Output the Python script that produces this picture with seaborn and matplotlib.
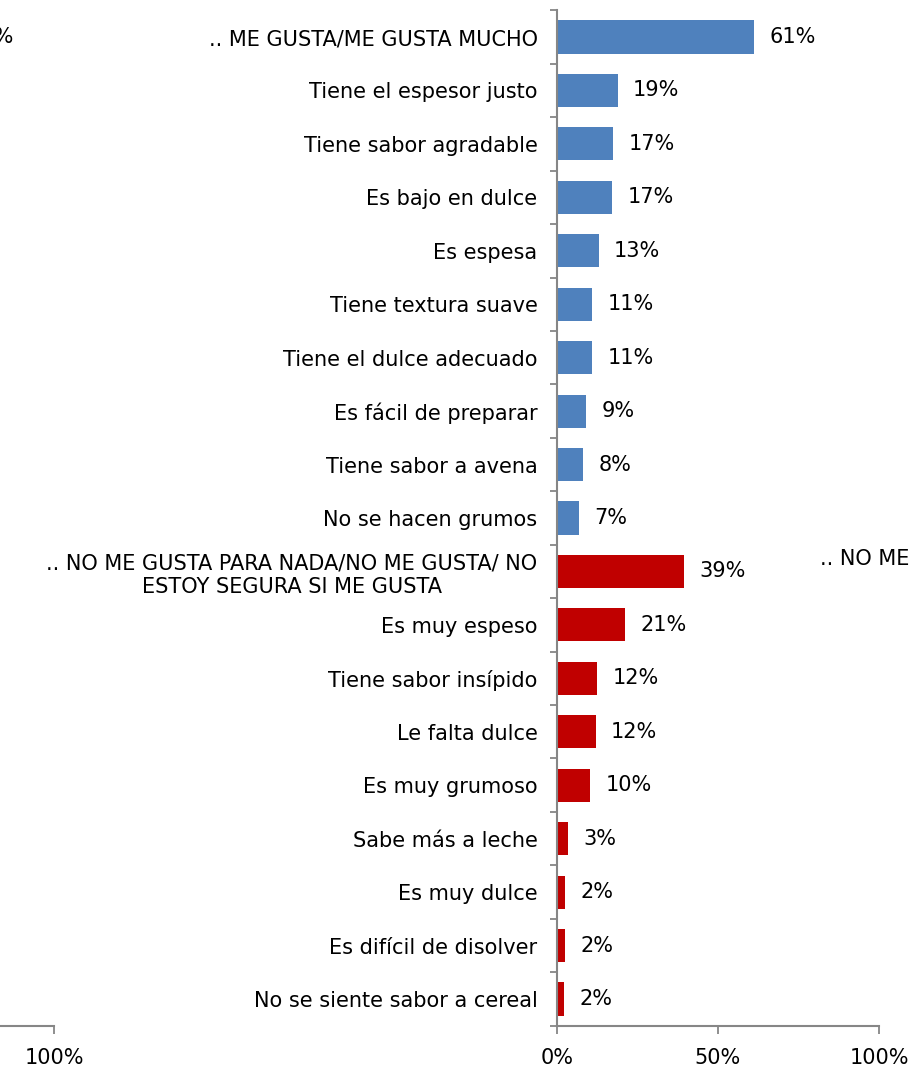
import matplotlib
matplotlib.use("Agg")
import pandas as pd
import seaborn as sns
import matplotlib.pyplot as plt
from matplotlib.ticker import FixedLocator, PercentFormatter

sns.set_style("white")
plt.rcParams['font.family'] = ['DejaVu Sans']
plt.rcParams['font.size'] = 15
plt.rcParams['text.color'] = 'black'
plt.rcParams['xtick.color'] = 'black'
plt.rcParams['ytick.color'] = 'black'

like_cats = [".. ME GUSTA/ME GUSTA MUCHO", "Tiene el espesor justo", "Tiene sabor agradable",
             "Es bajo en dulce", "Es espesa", "Tiene textura suave", "Tiene el dulce adecuado",
             "Es fácil de preparar", "Tiene sabor a avena", "No se hacen grumos"]
like_vals = [61.2, 18.9, 17.4, 17.1, 13.0, 11.0, 10.9, 9.0, 8.1, 6.8]

dislike_cats = [".. NO ME GUSTA PARA NADA/NO ME GUSTA/ NO\nESTOY SEGURA SI ME GUSTA", "Es muy espeso",
                "Tiene sabor insípido", "Le falta dulce", "Es muy grumoso", "Sabe más a leche",
                "Es muy dulce", "Es difícil de disolver", "No se siente sabor a cereal"]
dislike_vals = [39.4, 21.1, 12.4, 12.0, 10.4, 3.4, 2.4, 2.4, 2.2]

df = pd.DataFrame({
    "cat": like_cats + dislike_cats,
    "val": [v / 100 for v in like_vals + dislike_vals],
    "grp": ["like"] * len(like_cats) + ["dislike"] * len(dislike_cats),
})

grey = "#868686"
fig = plt.figure(figsize=(9.1, 10.73), dpi=100)
ax = fig.add_axes([557 / 910, 47.3 / 1073, 322 / 910, 1015.4 / 1073])

sns.barplot(data=df, y="cat", x="val", hue="grp", orient="h", dodge=False,
            palette={"like": "#4F81BD", "dislike": "#C00000"}, width=0.62,
            saturation=1, linewidth=0, legend=False, ax=ax)

for cont in ax.containers:
    labels = [f"{v * 100:.0f}%" for v in cont.datavalues]
    ax.bar_label(cont, labels=labels, padding=11, fontsize=15)

n = len(df)
ax.set_ylim(n - 0.5, -0.5)
ax.set_xlim(0, 1)
ax.set_xticks([0, 0.5, 1])
ax.xaxis.set_major_formatter(PercentFormatter(1.0, decimals=0))
ax.set_xlabel("")
ax.set_ylabel("")
for lbl in ax.get_yticklabels():
    lbl.set_multialignment("center")

ax.yaxis.set_minor_locator(FixedLocator([i - 0.5 for i in range(n + 1)]))
ax.tick_params(axis="y", which="major", length=0, pad=14)
ax.tick_params(axis="y", which="minor", left=True, length=5, width=1.3, color=grey)
ax.tick_params(axis="x", which="major", bottom=True, length=6, width=1.3, color=grey, pad=10)

sns.despine(ax=ax, top=True, right=True)
for side in ["left", "bottom"]:
    ax.spines[side].set_color(grey)
    ax.spines[side].set_linewidth(1.5)

# neighbouring chart, cut off at the left edge
ax2 = fig.add_axes([-268 / 910, 47.3 / 1073, 322 / 910, 1015.4 / 1073])
ax2.set_xlim(0, 1)
ax2.set_ylim(0, 1)
ax2.set_xticks([0, 0.5, 1])
ax2.xaxis.set_major_formatter(PercentFormatter(1.0, decimals=0))
ax2.set_yticks([])
ax2.patch.set_alpha(0)
for side in ["left", "top", "right"]:
    ax2.spines[side].set_visible(False)
ax2.spines["bottom"].set_color(grey)
ax2.spines["bottom"].set_linewidth(1.5)
ax2.tick_params(axis="x", bottom=True, length=6, width=1.3, color=grey, pad=10)

fig.text(14 / 910, 1 - 37 / 1073, "61%", ha="right", va="center", fontsize=15)
fig.text(820 / 910, 1 - 558 / 1073, ".. NO ME GUSTA PARA NADA/NO ME GUSTA/ NO",
         ha="left", va="center", fontsize=15)

fig.savefig("out.png", dpi=100)
